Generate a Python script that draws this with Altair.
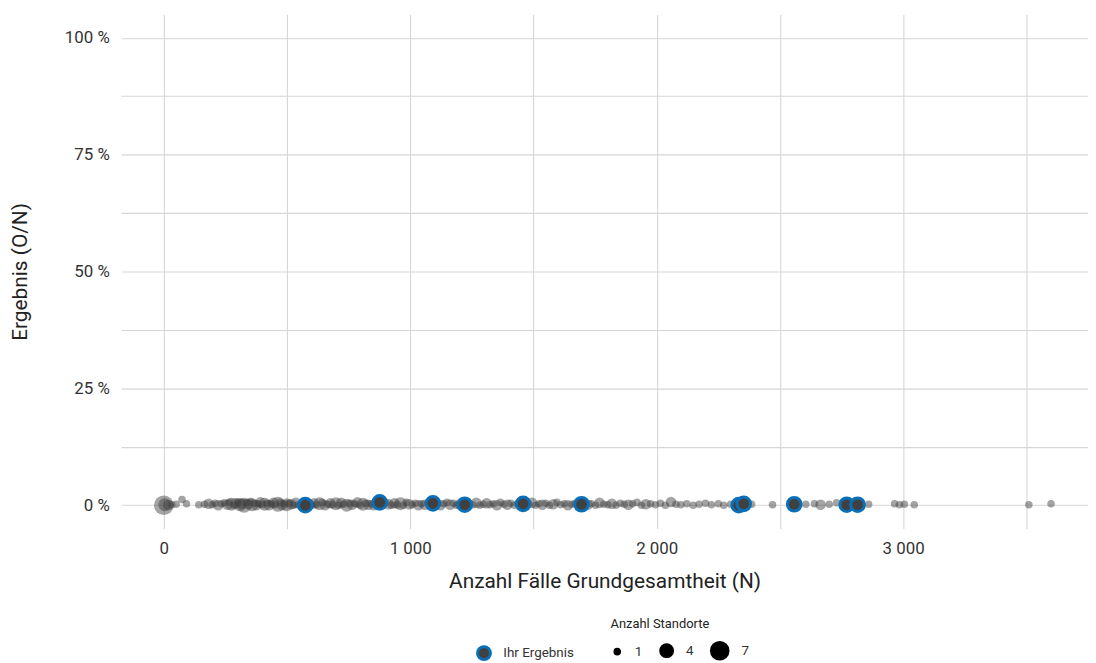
import altair as alt
import pandas as pd

# Grey points: all sites (N = Anzahl Fälle, result in %, number of sites)
n_all = [0, 4, 18, 32, 50, 74, 92, 142, 165, 182, 196, 208, 221, 234, 246, 258, 266, 275, 284, 292,
         301, 309, 317, 326, 334, 342, 351, 359, 367, 375, 383, 392, 400, 409, 418, 427, 436, 445, 454, 463,
         472, 481, 490, 499, 508, 517, 526, 536, 546, 556, 590, 600, 610, 621, 632, 643, 654, 665, 676, 687,
         698, 709, 720, 731, 742, 753, 764, 775, 786, 797, 808, 819, 830, 841, 852, 900, 912, 924, 936, 948,
         960, 972, 984, 996, 1008, 1020, 1033, 1046, 1059, 1072, 1110, 1123, 1136, 1149, 1162, 1175, 1188, 1201, 1240, 1254,
         1268, 1282, 1296, 1310, 1324, 1338, 1352, 1366, 1380, 1394, 1408, 1422, 1436, 1480, 1494, 1508, 1522, 1536, 1550, 1565,
         1580, 1595, 1610, 1625, 1640, 1655, 1670, 1720, 1735, 1752, 1768, 1785, 1802, 1818, 1835, 1852, 1868, 1885, 1902, 1920,
         1938, 1956, 1975, 1995, 2015, 2035, 2058, 2078, 2098, 2122, 2148, 2172, 2198, 2222, 2250, 2272, 2300, 2320, 2385, 2470,
         2605, 2640, 2665, 2700, 2730, 2860, 2965, 2985, 3005, 3045, 3510, 3600]
y_all = [0.0, 0.1, 0.05, 0.1, 0.2, 1.2, 0.3, 0.1, 0.2, 0.3, 0.1, 0.4, 0.0, 0.3, 0.5, 0.1, 0.6, 0.2, 0.0, 0.4,
         0.7, 0.1, 0.3, 0.0, 0.5, 0.2, 0.8, 0.1, 0.4, 0.0, 0.3, 0.6, 0.1, 0.2, 0.4, 0.0, 0.3, 0.5, 0.1, 0.2,
         0.6, 0.0, 0.3, 0.1, 0.4, 0.2, 0.0, 0.5, 0.1, 0.3, 0.2, 0.0, 0.4, 0.1, 0.3, 0.6, 0.0, 0.2, 0.4, 0.1,
         0.3, 0.0, 0.5, 0.2, 0.0, 0.4, 0.1, 0.3, 0.6, 0.0, 0.2, 0.4, 0.1, 0.3, 0.0, 0.5, 0.2, 0.0, 0.4, 0.1,
         0.3, 0.0, 0.6, 0.2, 0.1, 0.4, 0.0, 0.3, 0.1, 0.5, 0.2, 0.0, 0.3, 0.6, 0.1, 0.4, 0.0, 0.2, 0.3, 0.1,
         0.5, 0.0, 0.2, 0.4, 0.1, 0.3, 0.0, 0.6, 0.2, 0.1, 0.4, 0.0, 0.3, 0.2, 0.5, 0.0, 0.3, 0.1, 0.4, 0.0,
         0.2, 0.6, 0.1, 0.3, 0.0, 0.2, 0.4, 0.1, 0.3, 0.0, 0.5, 0.2, 0.1, 0.3, 0.0, 0.4, 0.2, 0.1, 0.3, 0.6,
         0.0, 0.2, 0.3, 0.1, 0.4, 0.0, 0.7, 0.2, 0.1, 0.3, 0.0, 0.2, 0.4, 0.1, 0.3, 0.0, 0.2, 0.1, 0.2, 0.1,
         0.2, 0.3, 0.1, 0.2, 0.5, 0.2, 0.3, 0.1, 0.2, 0.1, 0.1, 0.3]
sites_all = [7, 3, 2, 1, 1, 1, 1, 1, 1, 2, 1, 1, 2, 1, 1, 2, 1, 3, 1, 2,
             1, 3, 2, 4, 1, 2, 1, 3, 1, 2, 1, 2, 1, 3, 1, 2, 1, 2, 1, 4,
             1, 2, 1, 3, 1, 2, 1, 2, 1, 1, 2, 1, 2, 1, 3, 1, 2, 1, 2, 1,
             3, 1, 2, 1, 3, 1, 2, 1, 2, 1, 3, 1, 2, 1, 2, 1, 2, 1, 2, 1,
             3, 1, 1, 2, 1, 1, 2, 1, 2, 1, 1, 2, 1, 1, 2, 1, 1, 2, 1, 1,
             2, 1, 1, 2, 1, 1, 2, 1, 1, 2, 1, 1, 1, 1, 2, 1, 1, 2, 1, 1,
             2, 1, 1, 1, 2, 1, 1, 2, 1, 1, 2, 1, 1, 2, 1, 1, 1, 2, 1, 1,
             1, 2, 1, 1, 1, 1, 2, 1, 1, 1, 1, 1, 1, 1, 1, 1, 1, 1, 1, 1,
             1, 1, 2, 1, 1, 1, 1, 1, 1, 1, 1, 1]

# Highlighted points: "Ihr Ergebnis"
n_own = [574, 876, 1092, 1221, 1458, 1695, 2333, 2353, 2558, 2771, 2815]
y_own = [0.0, 0.6, 0.4, 0.1, 0.3, 0.2, 0.0, 0.3, 0.2, 0.1, 0.1]

x_grid = [0, 500, 1000, 1500, 2000, 2500, 3000, 3500]
y_grid = [0, 12.5, 25, 37.5, 50, 62.5, 75, 87.5, 100]
size_legend_values = [1, 4, 7]

df_all = pd.DataFrame({"N": n_all, "Ergebnis": y_all, "Standorte": sites_all})
df_own = pd.DataFrame({"N": n_own, "Ergebnis": y_own, "Gruppe": ["Ihr Ergebnis"] * len(n_own)})

FONT = "Roboto"
BLUE = "#0b6fb8"
GREY = "#404040"

x_enc = alt.X("N:Q", scale=alt.Scale(domain=[-173, 3750], nice=False, zero=False),
              axis=alt.Axis(title="Anzahl Fälle Grundgesamtheit (N)", values=x_grid,
                            labelExpr="datum.value % 1000 == 0 ? replace(format(datum.value, ','), ',', ' ') : ''",
                            titleY=53, titleBaseline="middle"))
y_enc = alt.Y("Ergebnis:Q", scale=alt.Scale(domain=[-5, 105], nice=False, zero=False),
              axis=alt.Axis(title="Ergebnis (O/N)", values=y_grid,
                            labelExpr="datum.value % 25 == 0 ? datum.value + ' %' : ''",
                            titleX=-101, titleY=259, titleAlign="center", titleBaseline="middle",
                            titleAngle=-90))

size_enc = alt.Size("Standorte:Q", scale=alt.Scale(domain=[1, 7], range=[58, 390], zero=False),
                    legend=alt.Legend(title="Anzahl Standorte", values=size_legend_values, orient="none",
                                      direction="horizontal", legendX=493, legendY=608,
                                      titleFontSize=13, titleFontWeight="normal", titleColor="#222",
                                      labelFontSize=13.5, labelColor="#333", titlePadding=9,
                                      labelOffset=11, columnPadding=13, padding=0))

# legend carrier layer (black symbols for the size legend, draws nothing)
legend_layer = alt.Chart(df_all).transform_filter("datum.Standorte > 100").mark_circle(
    color="black", opacity=1).encode(x=x_enc, y=y_enc, size=size_enc)

base_pts = alt.Chart(df_all).mark_circle(color=GREY, opacity=0.48).encode(
    x="N:Q", y="Ergebnis:Q", size=size_enc)

own_pts = alt.Chart(df_own).mark_point(filled=False, fill=GREY, fillOpacity=1, strokeWidth=3,
                                       size=190, opacity=1, shape="circle").encode(
    x="N:Q", y="Ergebnis:Q",
    stroke=alt.Stroke("Gruppe:N", scale=alt.Scale(domain=["Ihr Ergebnis"], range=[BLUE]),
                      legend=alt.Legend(title=None, orient="none", direction="horizontal",
                                        legendX=357, legendY=635,
                                        symbolType="circle", symbolFillColor=GREY, symbolStrokeColor=BLUE,
                                        symbolStrokeWidth=3, symbolSize=170, symbolOpacity=1,
                                        labelFontSize=13.5, labelColor="#333", labelOffset=11, padding=0)),
)

chart = alt.layer(legend_layer, base_pts, own_pts).properties(
    width=974, height=518,
    background="white",
    autosize=alt.AutoSizeParams(type="none"),
    padding={"left": 114, "top": 4, "right": 0, "bottom": 133},
).configure_view(stroke=None).configure_axis(
    labelFont=FONT, titleFont=FONT, labelFontSize=17, titleFontSize=21,
    labelColor="#333", titleColor="#222", titleFontWeight="normal",
    grid=True, gridColor="#d6d6d6", gridWidth=1.1, domain=False, ticks=False,
    labelPadding=12,
).configure_legend(labelFont=FONT, titleFont=FONT)

chart.save("out.html", embed_options={"renderer": "svg", "actions": False})
